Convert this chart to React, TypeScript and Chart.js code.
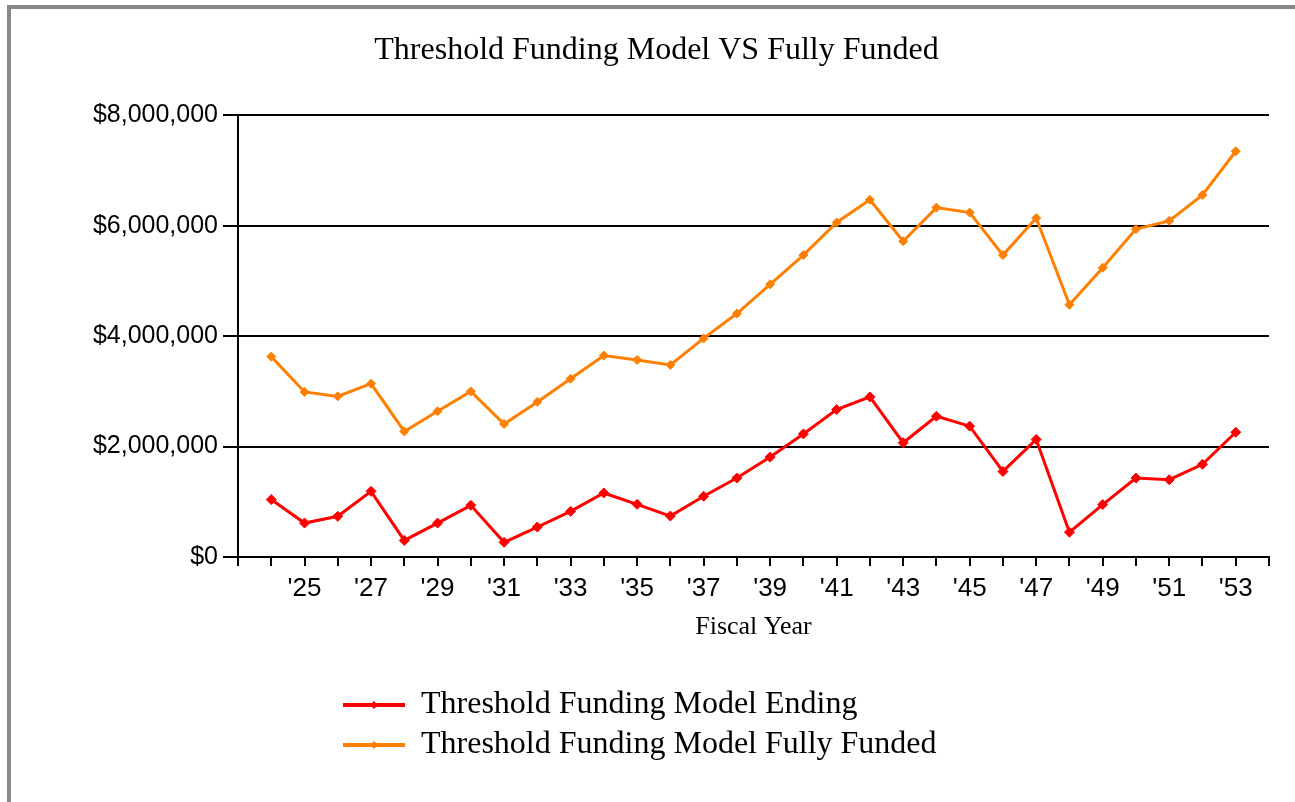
import React, { useEffect, useRef } from 'react';
import { Chart, registerables } from 'chart.js';

Chart.register(...registerables);

const years = [24, 25, 26, 27, 28, 29, 30, 31, 32, 33, 34, 35, 36, 37, 38, 39, 40, 41, 42, 43, 44, 45, 46, 47, 48, 49, 50, 51, 52, 53];
const endingValues = [1040000, 615000, 737000, 1190000, 300000, 615000, 936000, 266000, 543000, 827000, 1160000, 954000, 742000, 1100000, 1430000, 1810000, 2230000, 2670000, 2900000, 2070000, 2550000, 2370000, 1550000, 2130000, 450000, 950000, 1430000, 1400000, 1680000, 2260000];
const fullyFundedValues = [3630000, 2990000, 2910000, 3140000, 2275000, 2640000, 3000000, 2410000, 2810000, 3230000, 3650000, 3570000, 3480000, 3960000, 4410000, 4940000, 5470000, 6060000, 6470000, 5720000, 6330000, 6240000, 5470000, 6140000, 4570000, 5240000, 5940000, 6090000, 6560000, 7350000];
const yTickValues = [0, 2000000, 4000000, 6000000, 8000000];
const seriesLabels = ['Threshold Funding Model Ending', 'Threshold Funding Model Fully Funded'];
const seriesColors = ['#ff0000', '#ff8000'];
const chartTitle = 'Threshold Funding Model VS Fully Funded';
const xAxisTitle = 'Fiscal Year';

const SERIF = "'Liberation Serif', 'Times New Roman', serif";
const SANS = "'Liberation Sans Narrow', 'Arial Narrow', 'Liberation Sans', Arial, sans-serif";

const customLegend = {
  id: 'customLegend',
  afterDraw(chart: any) {
    const ctx = chart.ctx;
    ctx.save();
    chart.data.datasets.forEach((ds: any, i: number) => {
      const y = 705 + i * 40;
      ctx.strokeStyle = ds.borderColor;
      ctx.lineWidth = 4;
      ctx.beginPath();
      ctx.moveTo(343, y);
      ctx.lineTo(405, y);
      ctx.stroke();
      ctx.fillStyle = ds.borderColor;
      ctx.beginPath();
      const r = 4;
      ctx.moveTo(374, y - r);
      ctx.lineTo(374 + r, y);
      ctx.lineTo(374, y + r);
      ctx.lineTo(374 - r, y);
      ctx.closePath();
      ctx.fill();
      ctx.fillStyle = '#000';
      ctx.font = `32px ${SERIF}`;
      ctx.textAlign = 'left';
      ctx.textBaseline = 'middle';
      ctx.fillText(ds.label, 421, y);
    });
    ctx.restore();
  },
};

export default function App() {
  const canvasRef = useRef<HTMLCanvasElement | null>(null);

  useEffect(() => {
    if (!canvasRef.current) return;
    const chart = new Chart(canvasRef.current, {
      type: 'line',
      data: {
        datasets: [
          {
            label: seriesLabels[0],
            data: years.map((yr, i) => ({ x: yr, y: endingValues[i] })),
            borderColor: seriesColors[0],
            backgroundColor: seriesColors[0],
            borderWidth: 3,
            pointStyle: 'rectRot',
            pointRadius: 5,
            pointBorderWidth: 1,
            tension: 0,
          },
          {
            label: seriesLabels[1],
            data: years.map((yr, i) => ({ x: yr, y: fullyFundedValues[i] })),
            borderColor: seriesColors[1],
            backgroundColor: seriesColors[1],
            borderWidth: 3,
            pointStyle: 'rectRot',
            pointRadius: 4.5,
            pointBorderWidth: 1,
            tension: 0,
          },
        ],
      },
      options: {
        responsive: false,
        animation: false,
        devicePixelRatio: 1,
        layout: { padding: { left: 44, right: 26, top: 0, bottom: 0 } },
        plugins: {
          legend: { display: false },
          tooltip: { enabled: false },
          title: {
            display: true,
            text: chartTitle,
            color: '#000',
            font: { family: SERIF, size: 32, weight: 'normal', lineHeight: 1.2 },
            padding: { top: 31, bottom: 46 },
          },
        },
        scales: {
          x: {
            type: 'linear',
            min: 23,
            max: 54,
            afterFit: (scale: any) => {
              scale.height = 245;
            },
            ticks: {
              stepSize: 1,
              maxTicksLimit: 100,
              autoSkip: false,
              maxRotation: 0,
              minRotation: 0,
              padding: 7,
              color: '#000',
              font: { family: SANS, size: 26, lineHeight: 1.2 },
              callback: (v: any) => {
                const n = Number(v);
                return n >= 25 && n <= 53 && n % 2 === 1 ? `'${n}` : '';
              },
            },
            grid: {
              drawOnChartArea: false,
              drawTicks: true,
              tickLength: 9,
              color: '#000',
              lineWidth: 2,
            },
            border: { display: true, color: '#000', width: 2 },
            title: {
              display: true,
              text: xAxisTitle,
              color: '#000',
              font: { family: SERIF, size: 26, lineHeight: 1.2 },
              padding: { top: 0, bottom: 159 },
            },
          },
          y: {
            min: 0,
            max: 8000000,
            afterFit: (scale: any) => {
              scale.width = 194;
            },
            afterBuildTicks: (scale: any) => {
              scale.ticks = yTickValues.map((v) => ({ value: v }));
            },
            ticks: {
              padding: 5,
              color: '#000',
              font: { family: SANS, size: 25 },
              callback: (v: any) => '$' + Number(v).toLocaleString('en-US'),
            },
            grid: {
              drawTicks: true,
              tickLength: 15,
              color: '#000',
              lineWidth: 2,
            },
            border: { display: true, color: '#000', width: 2 },
          },
        },
      },
      plugins: [customLegend],
    } as any);
    return () => chart.destroy();
  }, []);

  return (
    <>
      <div
        style={{
          position: 'absolute',
          left: 7,
          top: 5,
          right: 0,
          bottom: 0,
          borderLeft: '4px solid #888',
          borderTop: '4px solid #888',
        }}
      />
      <div style={{ position: 'absolute', left: 0, top: 0, width: 1295, height: 802 }}>
        <canvas ref={canvasRef} width={1295} height={802} style={{ width: 1295, height: 802, display: 'block' }} />
      </div>
    </>
  );
}
